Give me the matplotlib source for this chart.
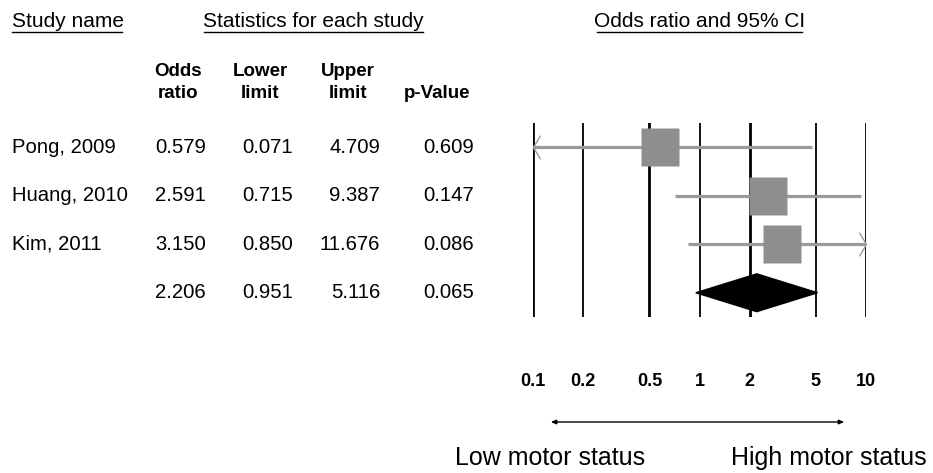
import matplotlib.pyplot as plt
import numpy as np
from matplotlib.path import Path
from matplotlib.patches import Polygon, FancyArrowPatch
from matplotlib.transforms import blended_transform_factory

plt.rcParams['font.family'] = ['Liberation Sans', 'DejaVu Sans']

studies = ['Pong, 2009', 'Huang, 2010', 'Kim, 2011', '']
odds = [0.579, 2.591, 3.150, 2.206]
lower = [0.071, 0.715, 0.850, 0.951]
upper = [4.709, 9.387, 11.676, 5.116]
pvals = [0.609, 0.147, 0.086, 0.065]
ticks = [0.1, 0.2, 0.5, 1, 2, 5, 10]
tick_labels = ['0.1', '0.2', '0.5', '1', '2', '5', '10']

W, H = 933, 473
fig = plt.figure(figsize=(W / 100, H / 100), dpi=100)


def fx(px):
    return px / W


def fy(py):
    return 1 - py / H


# forest plot area: 0.1 -> x=533, 10 -> x=866, rows from y=123 to 317
ax = fig.add_axes([fx(533), fy(317), fx(866) - fx(533), (317 - 123) / H])
ax.set_xscale('log')
ax.set_xlim(0.1, 10)
ax.set_ylim(3.5, -0.5)
for s in ax.spines.values():
    s.set_visible(False)
ax.set_yticks([])
ax.minorticks_off()
ax.set_xticks(ticks)
ax.set_xticklabels(tick_labels, fontweight='bold', fontsize=13)
ax.tick_params(axis='x', length=0, pad=40)

for i, t in enumerate(ticks):
    lw = 2.0 if i % 2 == 0 else 1.3
    ax.axvline(t, color='black', lw=lw, zorder=1)

xmin, xmax = ax.get_xlim()
left_head = Path([(0.6, 1), (0, 0), (0.6, -1)], [Path.MOVETO, Path.LINETO, Path.LINETO])
right_head = Path([(-0.6, 1), (0, 0), (-0.6, -1)], [Path.MOVETO, Path.LINETO, Path.LINETO])

n = len(studies) - 1
for i in range(n):
    lo = max(lower[i], xmin)
    hi = min(upper[i], xmax)
    ax.plot([lo, hi], [i, i], color='#9a9a9a', lw=2.3, zorder=2, solid_capstyle='butt')
    if lower[i] < xmin:
        ax.plot([xmin], [i], marker=left_head, ms=17, mfc='none', mec='#9a9a9a', mew=1, zorder=3)
    if upper[i] > xmax:
        ax.plot([xmax], [i], marker=right_head, ms=17, mfc='none', mec='#9a9a9a', mew=1, zorder=3)
    ax.plot(odds[i], i, marker='s', ms=27.5, mfc='#8e8e8e', mec='none', zorder=4)

# summary diamond
r = n
ax.add_patch(Polygon([(lower[r], r), (odds[r], r - 0.39), (upper[r], r), (odds[r], r + 0.39)],
                     closed=True, fc='black', ec='black', zorder=4))

# table text
tr = blended_transform_factory(fig.transFigure, ax.transData)
for i in range(len(studies)):
    ax.text(fx(12), i, studies[i], transform=tr, ha='left', va='center', fontsize=14.6)
    ax.text(fx(206), i, '%.3f' % odds[i], transform=tr, ha='right', va='center', fontsize=14.6)
    ax.text(fx(293), i, '%.3f' % lower[i], transform=tr, ha='right', va='center', fontsize=14.6)
    ax.text(fx(380), i, '%.3f' % upper[i], transform=tr, ha='right', va='center', fontsize=14.6)
    ax.text(fx(474), i, '%.3f' % pvals[i], transform=tr, ha='right', va='center', fontsize=14.6)

# headings with underlines
heads = [('Study name', 12, 'left'), ('Statistics for each study', 203, 'left'),
         ('Odds ratio and 95% CI', 700, 'center')]
for txt, x, ha in heads:
    fig.text(fx(x), fy(21), txt, ha=ha, va='center', fontsize=15)
fig.add_artist(plt.Line2D([fx(12), fx(122)], [fy(32), fy(32)], color='black', lw=1))
fig.add_artist(plt.Line2D([fx(204), fx(423)], [fy(32), fy(32)], color='black', lw=1))
fig.add_artist(plt.Line2D([fx(597), fx(802)], [fy(32), fy(32)], color='black', lw=1))

col_heads = [('Odds', 'ratio', 178), ('Lower', 'limit', 260), ('Upper', 'limit', 348), ('', 'p-Value', 437)]
for top, bottom, x in col_heads:
    fig.text(fx(x), fy(71), top, ha='center', va='center', fontsize=13.5, fontweight='bold')
    fig.text(fx(x), fy(93), bottom, ha='center', va='center', fontsize=13.5, fontweight='bold')

# direction arrow and labels
fig.patches.append(FancyArrowPatch(
    (fx(548), fy(422)), (fx(847), fy(422)), transform=fig.transFigure,
    arrowstyle='<|-|>,head_length=3,head_width=1.3', color='black', lw=1, mutation_scale=1))
fig.text(fx(455), fy(458), 'Low motor status', ha='left', va='center', fontsize=18)
fig.text(fx(731), fy(458), 'High motor status', ha='left', va='center', fontsize=18)

plt.savefig('out.png', dpi=100)
